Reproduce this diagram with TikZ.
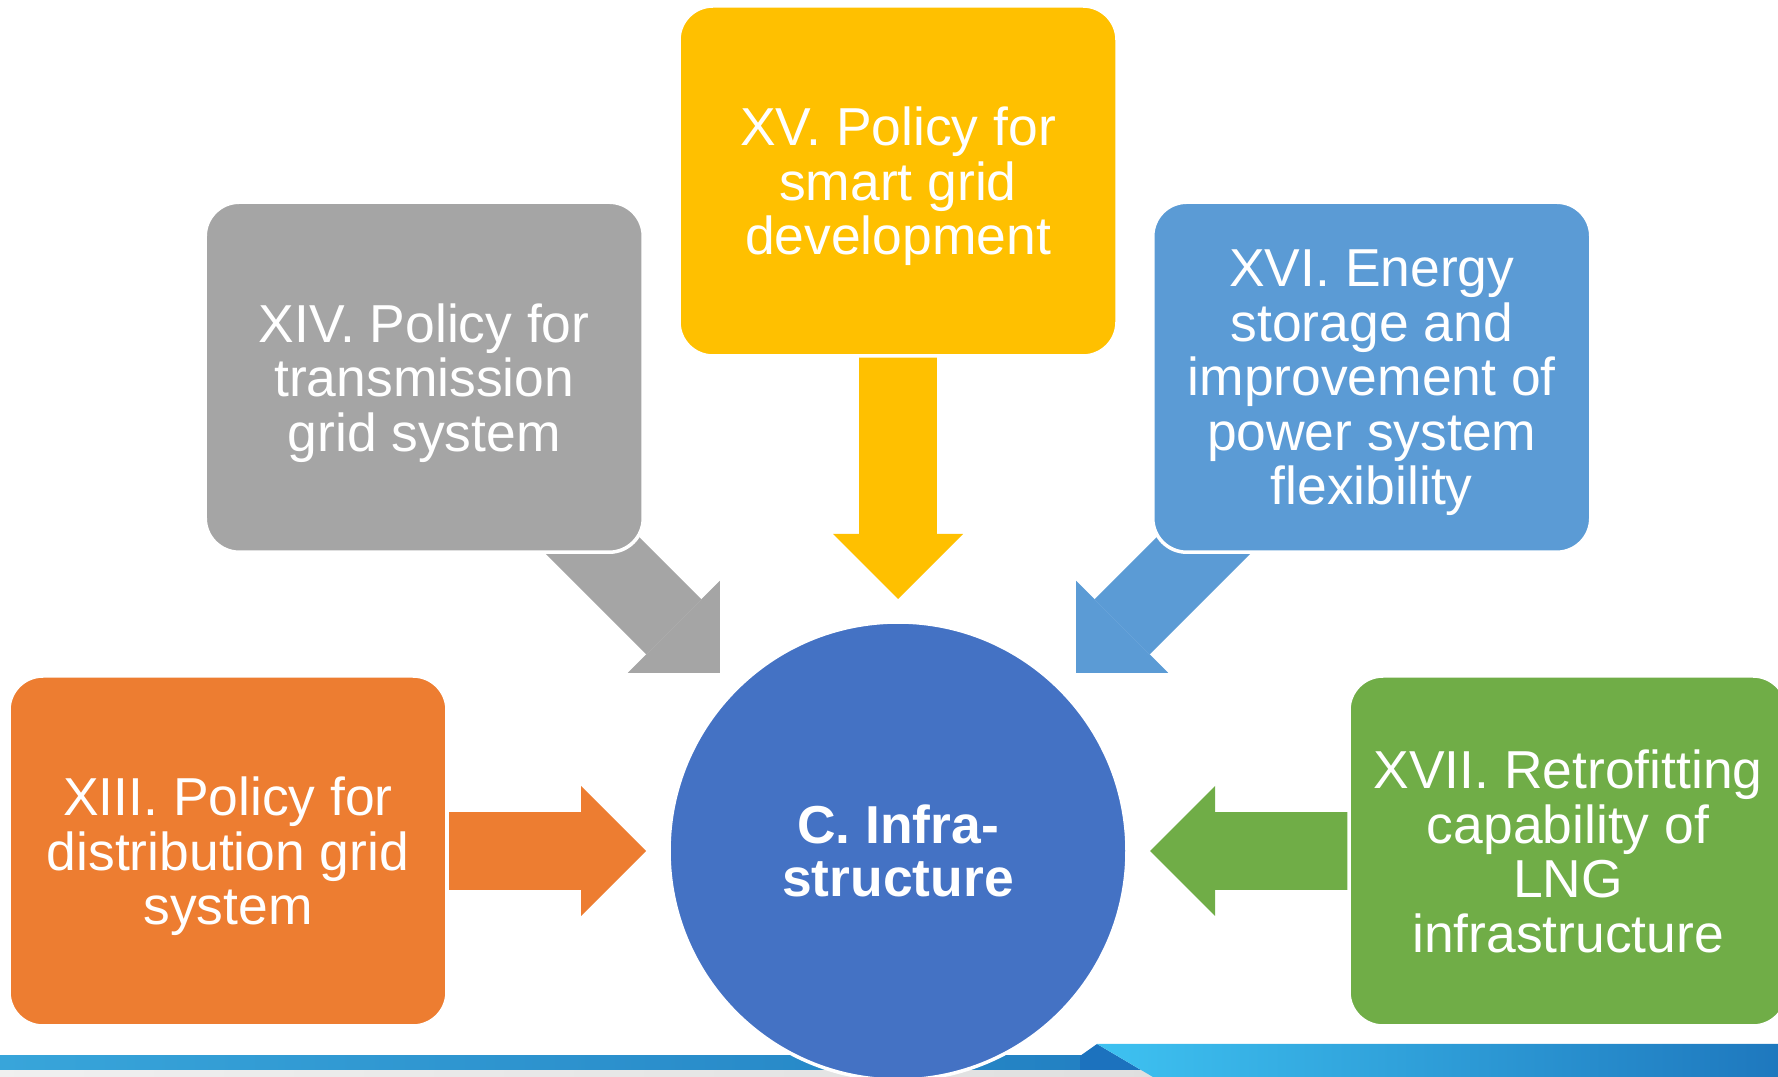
\documentclass[tikz,border=0pt]{standalone}
\usepackage{fontspec}
\setmainfont{Liberation Sans}
\usepackage{xcolor}
\usepackage{tikz}
\definecolor{orange1} {RGB} {237, 125, 49}
\definecolor{gray1} {RGB} {165, 165, 165}
\definecolor{gold1} {RGB} {255, 192, 0}
\definecolor{sky1} {RGB} {91, 155, 213}
\definecolor{green1} {RGB} {112, 173, 71}
\definecolor{blue1} {RGB} {68, 114, 196}
\definecolor{band1} {RGB} {56, 165, 218}
\definecolor{band2} {RGB} {34, 128, 194}
\definecolor{band3} {RGB} {62, 194, 241}
\definecolor{band4} {RGB} {30, 120, 190}
\definecolor{band5} {RGB} {28, 114, 190}
\usetikzlibrary{arrows.meta}
\usetikzlibrary{calc,backgrounds}
\tikzstyle{infra}=[
  font=\fontsize{15.2}{15.5}\selectfont, text=white
]
\tikzstyle{infranode}=[
  draw=white, line width=1pt, align=center, inner sep=0pt
]
\tikzstyle{infrabox}=[
  infranode, rectangle, rounded corners=0.34cm,
  minimum width=4.38cm, minimum height=3.50cm, text depth=-0.04cm
]
\tikzstyle{infrahub}=[
  infranode, circle, minimum size=4.58cm, fill=blue1,
  font=\fontsize{15.2}{15.3}\selectfont\bfseries
]
\tikzstyle{infraarrow}=[
  line width=7.8mm, shorten >=2.52cm,
  -{Triangle[length=6.5mm, width=13mm, line width=0pt]}
]
\begin{document}
\begin{tikzpicture}[infra]
\useasboundingbox (0,0) rectangle (17.78,10.77);
\node (hub) [infrahub] at (8.98, 2.26) {C. Infra-\\structure};

\node (xiii) [infrabox, fill=orange1] at ($(hub) + (180:6.7)$)
  {XIII. Policy for\\distribution grid\\system};
\node (xiv) [infrabox, fill=gray1] at ($(hub) + (135:6.7)$)
  {XIV. Policy for\\transmission\\grid system};
\node (xv) [infrabox, fill=gold1] at ($(hub) + (90:6.7)$)
  {XV. Policy for\\smart grid\\development};
\node (xvi) [infrabox, fill=sky1] at ($(hub) + (45:6.7)$)
  {XVI. Energy\\storage and\\improvement of\\power system\\flexibility};
\node (xvii) [infrabox, fill=green1] at ($(hub) + (0:6.7)$)
  {XVII. Retrofitting\\capability of\\LNG\\infrastructure};

\begin{scope}[on background layer]
\shade [left color=gray!12, right color=gray!25] (0, 0) rectangle (11.6, 0.07);
\shade [left color=band1, right color=band2] (0, 0.07) rectangle (11.1, 0.21);
\fill [band5] (10.80, 0.21) -- (10.97, 0.33) -- (11.41, 0.07) -- (10.80, 0.07) -- cycle;
\shade [left color=band3, right color=band4]
  (10.97, 0.33) -- (17.78, 0.33) -- (17.78, 0) -- (11.53, 0) -- cycle;
\draw [infraarrow, orange1] (xiii.center) -- (hub.center);
\draw [infraarrow, gray1] (xiv.center) -- (hub.center);
\draw [infraarrow, gold1] (xv.center) -- (hub.center);
\draw [infraarrow, sky1] (xvi.center) -- (hub.center);
\draw [infraarrow, green1] (xvii.center) -- (hub.center);
\end{scope}
\end{tikzpicture}
\end{document}
